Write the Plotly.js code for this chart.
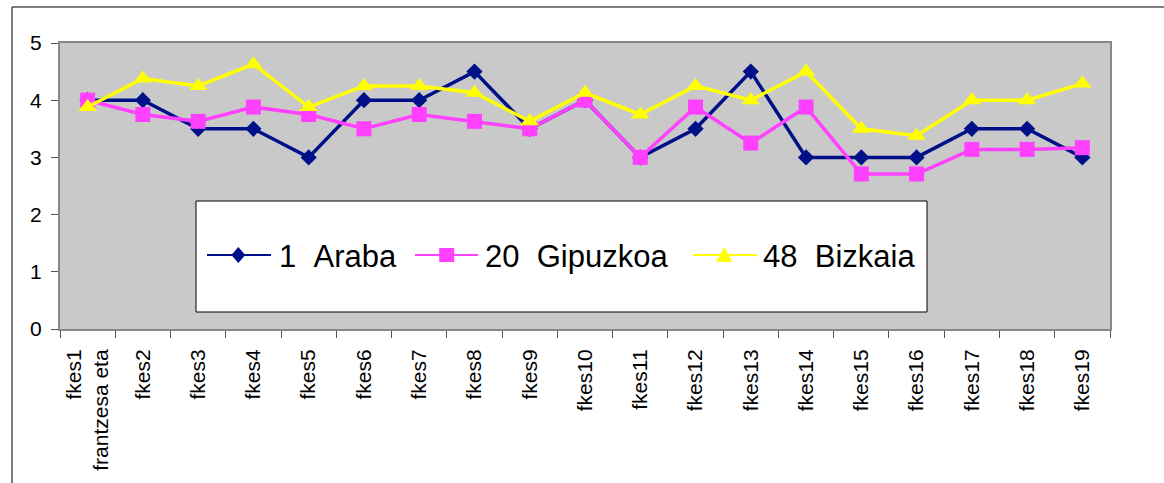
<!DOCTYPE html>
<html>
<head>
<meta charset="utf-8">
<script src="https://cdn.plot.ly/plotly-3.0.1.min.js"></script>
<style>html,body{margin:0;padding:0;background:#fff;}#chart{width:1164px;height:483px;}</style>
</head>
<body>
<div id="chart"></div>
<script>
// Categories (tick labels)
const categories = ["fkes1<br>frantzesa eta","fkes2","fkes3","fkes4","fkes5","fkes6","fkes7","fkes8","fkes9","fkes10","fkes11","fkes12","fkes13","fkes14","fkes15","fkes16","fkes17","fkes18","fkes19"];
// Series names
const seriesNames = ["1\u00a0\u00a0Araba","20\u00a0\u00a0Gipuzkoa","48\u00a0\u00a0Bizkaia"];
// Series values
const araba    = [4, 4, 3.5, 3.5, 3, 4, 4, 4.5, 3.5, 4, 3, 3.5, 4.5, 3, 3, 3, 3.5, 3.5, 3];
const gipuzkoa = [4, 3.75, 3.63, 3.88, 3.75, 3.5, 3.75, 3.63, 3.5, 4, 3, 3.88, 3.25, 3.88, 2.71, 2.71, 3.14, 3.14, 3.17];
const bizkaia  = [3.88, 4.38, 4.25, 4.63, 3.88, 4.25, 4.25, 4.13, 3.63, 4.13, 3.75, 4.25, 4, 4.5, 3.5, 3.38, 4, 4, 4.29];

const navy = '#001089', magenta = '#FF40FF', yellow = '#FFFF00';
const FONT = 'Liberation Sans, Arial, sans-serif';

const traces = [
  {x: categories, y: araba, name: seriesNames[0], type: 'scatter', mode: 'lines+markers',
   line: {color: navy, width: 3.5}, marker: {symbol: 'diamond', size: 12.5, color: navy}},
  {x: categories, y: gipuzkoa, name: seriesNames[1], type: 'scatter', mode: 'lines+markers',
   line: {color: magenta, width: 3.5}, marker: {symbol: 'square', size: 15, color: magenta}},
  {x: categories, y: bizkaia, name: seriesNames[2], type: 'scatter', mode: 'lines+markers',
   line: {color: yellow, width: 3.5}, marker: {symbol: 'triangle-up', size: 16, color: yellow}}
];

// pixel -> paper helpers for decorative legend/frame
const L = 60, T = 43, W = 1050, H = 286;
const px = v => (v - L) / W;
const py = v => (T + H - v) / H;

const colors = [navy, magenta, yellow];
const legendLines = [[207, 271], [415, 478], [693, 757]];
const legendMarkerX = [238.3, 446.7, 724.3];
const legendTextX = [278, 484, 762];
const markerPaths = [
  'M-7,0 L0,8 L7,0 L0,-8 Z',
  'M-7.5,-7 L7.5,-7 L7.5,7 L-7.5,7 Z',
  'M-8,-7 L8,-7 L0,8 Z'
];

const shapes = [
  // outer frame (top and left edges)
  {type: 'line', xref: 'paper', yref: 'paper', x0: px(12), x1: px(1164), y0: py(7), y1: py(7), line: {color: '#000', width: 1}},
  {type: 'line', xref: 'paper', yref: 'paper', x0: px(12), x1: px(12), y0: py(7), y1: py(483), line: {color: '#000', width: 1}},
  // legend box
  {type: 'rect', xref: 'paper', yref: 'paper', x0: px(196), x1: px(927), y0: py(312), y1: py(201),
   fillcolor: '#fff', line: {color: '#000', width: 1}, layer: 'above'}
];
for (let i = 0; i < 3; i++) {
  shapes.push({type: 'line', xref: 'paper', yref: 'paper', x0: px(legendLines[i][0]), x1: px(legendLines[i][1]),
    y0: py(255), y1: py(255), line: {color: colors[i], width: 2}, layer: 'above'});
  shapes.push({type: 'path', xref: 'paper', yref: 'paper', xsizemode: 'pixel', ysizemode: 'pixel',
    xanchor: px(legendMarkerX[i]), yanchor: py(255), path: markerPaths[i],
    fillcolor: colors[i], line: {color: colors[i], width: 0}, layer: 'above'});
}

const annotations = seriesNames.map((n, i) => ({
  text: n, xref: 'paper', yref: 'paper', x: px(legendTextX[i]), y: py(256),
  xanchor: 'left', yanchor: 'middle', showarrow: false, borderpad: 0,
  font: {family: FONT, size: 31, color: '#000'}
}));

const layout = {
  width: 1164, height: 483,
  margin: {l: L, r: 1164 - L - W, t: T, b: 483 - T - H, pad: 0},
  paper_bgcolor: '#fff', plot_bgcolor: '#C9C9C9',
  showlegend: false,
  font: {family: FONT, size: 20, color: '#000'},
  xaxis: {type: 'category', range: [-0.5, 18.5], tickangle: -90, tickson: 'boundaries',
    ticks: 'outside', ticklen: 7, tickcolor: '#555', tickwidth: 1,
    showline: true, linecolor: '#888', linewidth: 2, mirror: true,
    showgrid: false, zeroline: false, ticklabelstandoff: 10,
    tickfont: {family: FONT, size: 21, color: '#000'}},
  yaxis: {range: [0, 5], dtick: 1, ticks: 'outside', ticklen: 7, tickcolor: '#555', tickwidth: 1,
    showline: true, linecolor: '#888', linewidth: 2, mirror: true,
    showgrid: false, zeroline: false, ticklabelstandoff: 5,
    tickfont: {family: FONT, size: 21, color: '#000'}},
  shapes: shapes,
  annotations: annotations
};

Plotly.newPlot('chart', traces, layout, {displayModeBar: false, staticPlot: true});
</script>
</body>
</html>
